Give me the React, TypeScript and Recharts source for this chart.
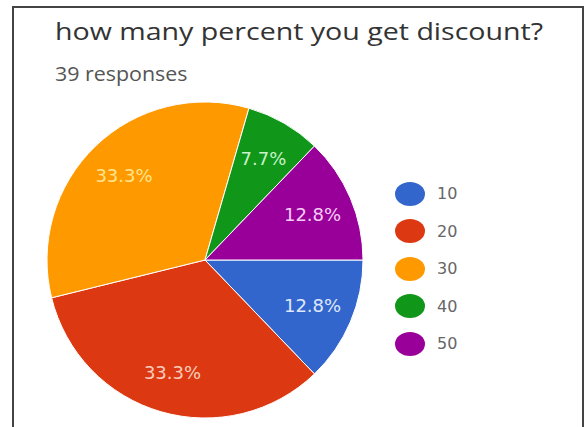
import { Legend, Pie, PieChart, Cell } from "recharts";

// discount survey: 39 responses
const categories = ["10", "20", "30", "40", "50"];
const counts = [5, 13, 13, 3, 5];
const colors = ["#3366cc", "#dc3912", "#ff9900", "#109618", "#990099"];
const labelColors = ["#dfe8fb", "#fbcdbd", "#ffe58f", "#c9f2c9", "#f7cdf7"];

const total = counts.reduce((a, b) => a + b, 0);
const data = categories.map((name, i) => ({ name, value: counts[i] }));

const RAD = Math.PI / 180;

function SliceLabel(props: any) {
  const { cx, cy, midAngle, outerRadius, index, value } = props;
  const r = outerRadius * 0.74;
  const x = cx + r * Math.cos(-midAngle * RAD);
  const y = cy + r * Math.sin(-midAngle * RAD);
  return (
    <text
      x={x}
      y={y}
      fill={labelColors[index]}
      textAnchor="middle"
      dominantBaseline="central"
      fontFamily="'DejaVu Sans'"
      fontSize={18}
    >
      {((value / total) * 100).toFixed(1)}%
    </text>
  );
}

function LegendList(props: any) {
  const { payload } = props;
  return (
    <div>
      {payload.map((p: any, i: number) => (
        <div key={p.value} style={{ display: "flex", alignItems: "center", height: 37.5 }}>
          <span
            style={{
              display: "inline-block",
              width: 30,
              height: 24,
              borderRadius: "50%",
              background: colors[i],
              marginRight: 12,
            }}
          />
          <span style={{ fontFamily: "'DejaVu Sans'", fontSize: 16, color: "#666" }}>{p.value}</span>
        </div>
      ))}
    </div>
  );
}

export default function App() {
  return (
    <div style={{ position: "absolute", left: 0, top: 0, width: 587, height: 427, background: "#fff", overflow: "hidden" }}>
      {/* frame */}
      <div
        style={{
          position: "absolute",
          left: 12,
          top: 6,
          width: 568,
          height: 440,
          borderLeft: "2px solid #444",
          borderTop: "2px solid #444",
          borderRight: "2px solid #444",
        }}
      />
      <div
        style={{
          position: "absolute",
          left: 55,
          top: 14,
          fontFamily: "'Open Sans'",
          fontSize: 24,
          color: "#333",
          whiteSpace: "nowrap",
          transform: "scaleX(1.19)",
          transformOrigin: "left center",
        }}
      >
        how many percent you get discount?
      </div>
      <div
        style={{
          position: "absolute",
          left: 55,
          top: 60,
          fontFamily: "'Open Sans'",
          fontSize: 20,
          color: "#555",
          whiteSpace: "nowrap",
          transform: "scaleX(1.07)",
          transformOrigin: "left center",
        }}
      >
        39 responses
      </div>
      <div style={{ position: "absolute", left: 0, top: 0 }}>
        <PieChart width={587} height={427}>
          <Pie
            data={data}
            dataKey="value"
            nameKey="name"
            cx={200}
            cy={255}
            outerRadius={158}
            startAngle={0}
            endAngle={-360}
            stroke="#fff"
            strokeWidth={1}
            label={SliceLabel}
            labelLine={false}
            isAnimationActive={false}
          >
            {data.map((d, i) => (
              <Cell key={d.name} fill={colors[i]} />
            ))}
          </Pie>
          <Legend
            layout="vertical"
            content={LegendList}
            wrapperStyle={{ left: 395, top: 175, width: 100 }}
          />
        </PieChart>
      </div>
    </div>
  );
}
